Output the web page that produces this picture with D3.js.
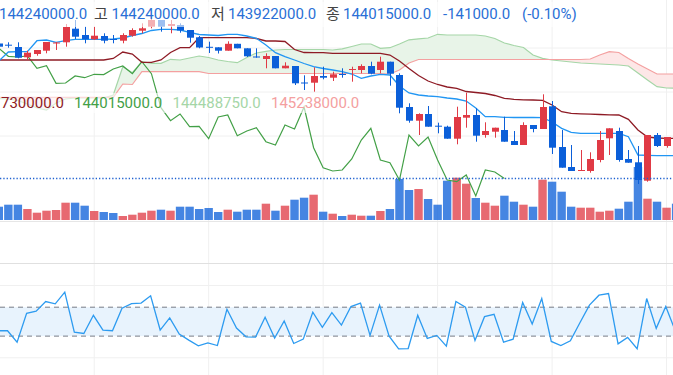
<!DOCTYPE html>
<html>
<head>
<meta charset="utf-8">
<script src="https://cdn.jsdelivr.net/npm/d3@7"></script>
<style>
  html, body { margin: 0; padding: 0; background: #fff; overflow: hidden; }
  svg { display: block; }
</style>
</head>
<body>
<svg id="chart" width="673" height="375"></svg>
<script>
// 가격 단위: 만원 (10,000 KRW). 72 visible bars, index 0..71
const openP = [14536.5, 14535.3, 14533, 14522.7, 14526, 14529.3, 14537, 14537.7, 14551.3, 14545,
  14540.7, 14544, 14541, 14539.3, 14544.3, 14549.3, 14553.3, 14560, 14554, 14555,
  14550, 14542.7, 14533.2, 14532.7, 14529.3, 14536.2, 14531.7, 14523.5, 14521, 14524,
  14511.7, 14514, 14497.5, 14497.3, 14504, 14502.3, 14506, 14510, 14510, 14514,
  14510, 14518.3, 14505, 14473, 14459.3, 14466, 14454.3, 14453.3, 14441.3, 14462.3,
  14465, 14445, 14448.3, 14450, 14439, 14435, 14455, 14451, 14473.7, 14433,
  14413, 14409, 14409, 14420, 14441.7, 14449, 14421, 14417.7, 14399.3, 14445,
  14434, 14443];
const highP = [14538, 14537.7, 14537.7, 14529.3, 14530, 14538, 14538, 14556, 14560, 14553.3,
  14553.3, 14546.7, 14545, 14546.7, 14551.7, 14556.7, 14563.3, 14560, 14560, 14556.7,
  14550, 14544, 14538.3, 14532.7, 14538.7, 14536.2, 14531.7, 14531.7, 14526.7, 14524,
  14517.7, 14514, 14504.7, 14512.7, 14513.3, 14508.3, 14511.7, 14513.3, 14515.7, 14518.3,
  14523.3, 14518.3, 14506.7, 14476.7, 14466.7, 14474, 14457.3, 14454.3, 14473.3, 14487.3,
  14471.7, 14457.7, 14452.3, 14463.3, 14449, 14457.7, 14455, 14485.7, 14479, 14450,
  14435, 14430, 14427.7, 14449, 14451.7, 14452.3, 14430, 14434, 14445, 14447,
  14443, 14445];
const lowP = [14533, 14532.3, 14521.7, 14520, 14524.3, 14526.7, 14530, 14533.3, 14541, 14536.7,
  14540, 14536.7, 14536.7, 14536.7, 14543.3, 14546.7, 14551.7, 14548.3, 14546.7, 14547.3,
  14537.3, 14531.7, 14527, 14526.5, 14529.3, 14531.7, 14523, 14522.3, 14511.7, 14511.7,
  14511.7, 14495, 14490, 14488.3, 14500.7, 14499, 14502.3, 14498.3, 14506.7, 14505.7,
  14506.7, 14494.3, 14466.7, 14457.3, 14445, 14453.3, 14446.7, 14441.3, 14435.7, 14452.3,
  14438.3, 14442.3, 14442.3, 14438.3, 14435, 14435, 14447.7, 14451, 14426, 14412.3,
  14409, 14409, 14407.3, 14417.7, 14425, 14418.3, 14417.3, 14396, 14398.3, 14433,
  14432.3, 14418];
const closeP = [14533.3, 14534.7, 14522.3, 14527.3, 14530, 14538, 14537.5, 14553, 14543.3, 14540.7,
  14544.3, 14539.3, 14540.4, 14545, 14550, 14551.7, 14560, 14553.3, 14556, 14549.5,
  14542.3, 14532.5, 14532.5, 14529.3, 14536.2, 14531.7, 14523.7, 14523, 14524, 14511.7,
  14514.3, 14496.7, 14497, 14504, 14502.3, 14505.7, 14505.4, 14511, 14514, 14506.3,
  14518.3, 14506.3, 14472.3, 14459.3, 14466, 14453.3, 14453.7, 14441.3, 14463, 14465,
  14444.3, 14449, 14452.3, 14438.3, 14435, 14455, 14451, 14473, 14432.3, 14412.3,
  14409, 14410, 14421, 14440, 14451.7, 14420, 14417.3, 14400, 14445, 14434,
  14443, 14420];
// closes of the bars right of the visible area (only seen through the lagging span)
const closeAfterView = [14400, 14398.3, 14405, 14384, 14410, 14408, 14401.5];

const volume = [13.3, 15.3, 15.3, 11, 7.3, 9.3, 10, 17.3, 17.3, 14.3,
  9, 8, 7, 4, 5.3, 7.3, 9.3, 10.3, 9.3, 13.3,
  13.3, 11, 12, 8, 10.3, 8.3, 10.3, 10.3, 16.3, 9.3,
  14.3, 20.3, 22.3, 25.3, 8.3, 6.3, 4, 5.3, 4.3, 4.3,
  9, 11, 41, 30, 31, 21, 15.3, 39.3, 42.3, 36.3,
  22, 17.3, 14.3, 24.3, 18.3, 15.3, 13.3, 40.3, 38.3, 28.3,
  13.3, 12.3, 12.3, 8.3, 9.3, 11.3, 18.3, 53, 21.3, 18.3,
  12.3, 16.3];

const tenkan = [14519, 14528, 14528.3, 14528.3, 14539.3, 14540, 14537.7, 14539.3, 14540.7, 14540.7,
  14540.7, 14540.7, 14541, 14542, 14544.5, 14546.5, 14549.5, 14550.7, 14550.7, 14550,
  14547.7, 14545.5, 14545, 14544.5, 14545.7, 14545.7, 14544, 14541.7, 14535, 14527.3,
  14523.3, 14520, 14516.5, 14513.3, 14511.5, 14510, 14508.3, 14506, 14501.7, 14504,
  14505.7, 14505, 14494, 14487, 14485, 14484, 14483.3, 14482, 14481, 14479,
  14472, 14463.3, 14463.3, 14462.7, 14462.5, 14462.5, 14462.5, 14462.3, 14458, 14451.7,
  14447.7, 14446.7, 14446.7, 14446.7, 14446.7, 14446.7, 14443.3, 14425, 14424.7, 14424.3,
  14424.3, 14424.3];
const kijun = [14520, 14520, 14520, 14520, 14520, 14520, 14520, 14520, 14520, 14520,
  14520, 14520, 14521.5, 14528, 14526, 14517.7, 14517.7, 14520, 14527.5, 14532.3,
  14532.3, 14542.3, 14542.3, 14542.3, 14542.3, 14542.3, 14542.3, 14541.5, 14539, 14539,
  14538.5, 14530.5, 14527.5, 14527.3, 14527.3, 14526.7, 14526.7, 14526.7, 14526.7, 14526.7,
  14526.7, 14525, 14519, 14511.5, 14504.5, 14499, 14495.5, 14493, 14491.7, 14488.5,
  14487.5, 14486.5, 14484.5, 14481.7, 14480.7, 14480.2, 14480, 14479.7, 14475, 14468.3,
  14466.7, 14466.2, 14465.8, 14465.5, 14465.2, 14465, 14460.7, 14450, 14443, 14442,
  14441.7, 14441.7];
const senkouA = [14481.5, 14481, 14479.5, 14476, 14472, 14470, 14477, 14481, 14482, 14482,
  14482, 14482, 14485, 14513.3, 14507.3, 14518.3, 14516.7, 14516.7, 14520.7, 14520,
  14522, 14524, 14522.5, 14520, 14518.5, 14517.3, 14522.5, 14527, 14528.7, 14530,
  14530.5, 14530.5, 14530.5, 14530.5, 14530.5, 14530, 14531.2, 14533.5, 14536, 14536,
  14531.7, 14532.3, 14536, 14540.2, 14541.2, 14542, 14545.7, 14545, 14545, 14545,
  14545, 14544, 14541.5, 14537, 14534.5, 14532.5, 14525, 14521.7, 14520, 14519,
  14518, 14517, 14516.5, 14516, 14515.5, 14515, 14514, 14507, 14500, 14493.3,
  14492, 14491.7];
const senkouB = [14482.7, 14482.7, 14482.7, 14482.7, 14482.7, 14482.7, 14482.7, 14482.7, 14482.7, 14482.7,
  14482.7, 14482.7, 14482.7, 14496, 14495.5, 14508.3, 14508.3, 14508.3, 14508.3, 14508.3,
  14508.3, 14508.3, 14506.5, 14506.5, 14506.5, 14506.5, 14506.5, 14506.5, 14506.5, 14506.5,
  14506.5, 14506.5, 14506.5, 14506.5, 14506.5, 14506.5, 14506.5, 14506.5, 14506.5, 14506.5,
  14506.5, 14506, 14510, 14517, 14520.5, 14520.5, 14520.5, 14520.5, 14520.5, 14520.5,
  14520.5, 14520.5, 14520.5, 14520.5, 14520.5, 14520.5, 14520.5, 14520.5, 14520.5, 14520.5,
  14520.5, 14520.5, 14521, 14525, 14528.3, 14527.5, 14521.5, 14516, 14511, 14506,
  14506, 14506];
const LAG = 25;

const rsi = [37.4, 37.4, 21.6, 61.6, 64.4, 77.8, 74.6, 90.9, 35.6, 33.7,
  58.8, 38.4, 37.4, 68.6, 75, 75.6, 85.7, 38.4, 55.1, 32.8,
  24.4, 16.5, 20.7, 17, 67.2, 41.1, 29, 28.6, 56, 27.2,
  50.9, 19.8, 25.8, 63, 42.1, 62.5, 45.3, 70.9, 75.6, 31,
  72.8, 30, 12.3, 12.8, 58.8, 26.8, 31, 16.1, 77.8, 70,
  24, 56.9, 60.2, 21.6, 25.8, 76.4, 46.7, 82, 22.6, 17,
  23.4, 48.5, 72.8, 86.6, 88.9, 19.3, 28.2, 12.5, 82, 40.7,
  70.9, 37.4];
const rsiBands = [30, 70];

const gridBars = [10, 22, 34, 46, 58, 70];
const priceGrid = [14532, 14488, 14444];
const lastPrice = 14401.5;

const headerItems = [
  { t: "144240000.0", x: -1, c: "#2a6fd6" },
  { t: "고", x: 94, c: "#444" },
  { t: "144240000.0", x: 111.5, c: "#2a6fd6" },
  { t: "저", x: 211, c: "#444" },
  { t: "143922000.0", x: 228, c: "#2a6fd6" },
  { t: "종", x: 326, c: "#444" },
  { t: "144015000.0", x: 343, c: "#2a6fd6" },
  { t: "-141000.0", x: 443, c: "#2a6fd6" },
  { t: "(-0.10%)", x: 522, c: "#2a6fd6" }
];
// the kijun value is cut at the left edge of the chart, only its tail shows
const legendItems = [
  { t: "730000.0", x: 1, c: "#8e1b25" },
  { t: "144015000.0", x: 74, c: "#43a047" },
  { t: "144488750.0", x: 172.5, c: "#a5d6a7" },
  { t: "145238000.0", x: 271, c: "#f4a0a0" }
];

const UP = "#e03a45", DOWN = "#0b5fd9";

const svg = d3.select("#chart");
const W = 673;
const idx = d3.range(openP.length);
const x = d3.scaleLinear().domain([0, 71]).range([-1.2, 676.1]);
const y = d3.scaleLinear().domain([14400, 14580]).range([180, 0]);
const yVol = d3.scaleLinear().domain([0, 60]).range([220, 160]);
const yRsi = d3.scaleLinear().domain([0, 100]).range([357.8, 285.5]);

// grid
svg.append("g").selectAll("line").data(gridBars).join("line")
  .attr("x1", d => x(d)).attr("x2", d => x(d))
  .attr("y1", 0).attr("y2", 375)
  .attr("stroke", "#f0f0f0").attr("stroke-width", 1);
svg.append("g").selectAll("line").data(priceGrid).join("line")
  .attr("x1", 0).attr("x2", W)
  .attr("y1", d => y(d)).attr("y2", d => y(d))
  .attr("stroke", "#f0f0f0");
svg.append("g").selectAll("line").data([0, 100]).join("line")
  .attr("x1", 0).attr("x2", W)
  .attr("y1", d => yRsi(d)).attr("y2", d => yRsi(d))
  .attr("stroke", "#f0f0f0");
svg.append("line").attr("x1", 0).attr("x2", W).attr("y1", 221.5).attr("y2", 221.5)
  .attr("stroke", "#e6e6e6");
svg.append("line").attr("x1", 0).attr("x2", W).attr("y1", 263.5).attr("y2", 263.5)
  .attr("stroke", "#e0e0e0");

// cloud
const defs = svg.append("defs");
defs.append("clipPath").attr("id", "aboveB").append("path")
  .attr("d", d3.area().x(i => x(i)).y0(0).y1(i => y(senkouB[i]))(idx));
defs.append("clipPath").attr("id", "belowB").append("path")
  .attr("d", d3.area().x(i => x(i)).y0(262).y1(i => y(senkouB[i]))(idx));
const cloud = d3.area().x(i => x(i)).y0(i => y(senkouA[i])).y1(i => y(senkouB[i]));
svg.append("path").attr("d", cloud(idx)).attr("fill", "#e8f4e8").attr("clip-path", "url(#aboveB)");
svg.append("path").attr("d", cloud(idx)).attr("fill", "#fde7e7").attr("clip-path", "url(#belowB)");

const line = arr => d3.line().x(i => x(i)).y(i => y(arr[i]));
svg.append("path").attr("d", line(senkouA)(idx)).attr("fill", "none")
  .attr("stroke", "#a5d6a7").attr("stroke-width", 1.2);
svg.append("path").attr("d", line(senkouB)(idx)).attr("fill", "none")
  .attr("stroke", "#f4a0a0").attr("stroke-width", 1.2);

// volume
svg.append("g").selectAll("rect").data(idx).join("rect")
  .attr("x", i => x(i) - 4.2).attr("width", 8.4)
  .attr("y", i => yVol(volume[i])).attr("height", i => yVol(0) - yVol(volume[i]))
  .attr("fill", i => closeP[i] >= openP[i] ? UP : DOWN)
  .attr("opacity", 0.76);

// lagging span
const allClose = closeP.concat(closeAfterView);
const lagIdx = d3.range(allClose.length - LAG);
svg.append("path")
  .attr("d", d3.line().x(i => x(i)).y(i => y(allClose[i + LAG]))(lagIdx))
  .attr("fill", "none").attr("stroke", "#43a047").attr("stroke-width", 1.2);

svg.append("path").attr("d", line(kijun)(idx)).attr("fill", "none")
  .attr("stroke", "#8e1b25").attr("stroke-width", 1.3);
svg.append("path").attr("d", line(tenkan)(idx)).attr("fill", "none")
  .attr("stroke", "#2196f3").attr("stroke-width", 1.3);

// candles
const candles = svg.append("g").selectAll("g").data(idx).join("g")
  .attr("fill", i => closeP[i] >= openP[i] ? UP : DOWN)
  .attr("stroke", i => closeP[i] >= openP[i] ? UP : DOWN);
candles.append("line")
  .attr("x1", i => Math.round(x(i)) + 0.5).attr("x2", i => Math.round(x(i)) + 0.5)
  .attr("y1", i => y(highP[i])).attr("y2", i => y(lowP[i]))
  .attr("stroke-width", 1);
candles.append("rect")
  .attr("x", i => Math.round(x(i)) - 3).attr("width", 7)
  .attr("y", i => y(Math.max(openP[i], closeP[i])))
  .attr("height", i => Math.max(1, Math.abs(y(openP[i]) - y(closeP[i]))))
  .attr("stroke", "none");

// last price line
svg.append("line").attr("x1", 0).attr("x2", W)
  .attr("y1", y(lastPrice)).attr("y2", y(lastPrice))
  .attr("stroke", "#1f62d0").attr("stroke-width", 1.3).attr("stroke-dasharray", "1.3,2");

// RSI pane
svg.append("rect").attr("x", 0).attr("width", W)
  .attr("y", yRsi(rsiBands[1])).attr("height", yRsi(rsiBands[0]) - yRsi(rsiBands[1]))
  .attr("fill", "#e8f3fd");
svg.append("g").selectAll("line").data(rsiBands).join("line")
  .attr("x1", 0).attr("x2", W)
  .attr("y1", d => yRsi(d)).attr("y2", d => yRsi(d))
  .attr("stroke", "#787b86").attr("stroke-dasharray", "5,4");
svg.append("path")
  .attr("d", d3.line().x(i => x(i) - 0.8).y(i => yRsi(rsi[i]))(idx))
  .attr("fill", "none").attr("stroke", "#2d9bf0").attr("stroke-width", 1.3);

// legends
const font = "Roboto, 'Noto Sans CJK KR', sans-serif";
svg.append("rect").attr("x", 0).attr("y", 2).attr("width", 590).attr("height", 25)
  .attr("fill", "#fff").attr("opacity", 0.6);
svg.append("g").selectAll("text").data(headerItems).join("text")
  .attr("x", d => d.x).attr("y", 18.5)
  .attr("font-family", font).attr("font-size", 15)
  .attr("fill", d => d.c).text(d => d.t);
svg.append("rect").attr("x", 0).attr("y", 93).attr("width", 365).attr("height", 20)
  .attr("fill", "#fff").attr("opacity", 0.6);
svg.append("g").selectAll("text").data(legendItems).join("text")
  .attr("x", d => d.x).attr("y", 108)
  .attr("font-family", font).attr("font-size", 15)
  .attr("fill", d => d.c).text(d => d.t);
</script>
</body>
</html>
